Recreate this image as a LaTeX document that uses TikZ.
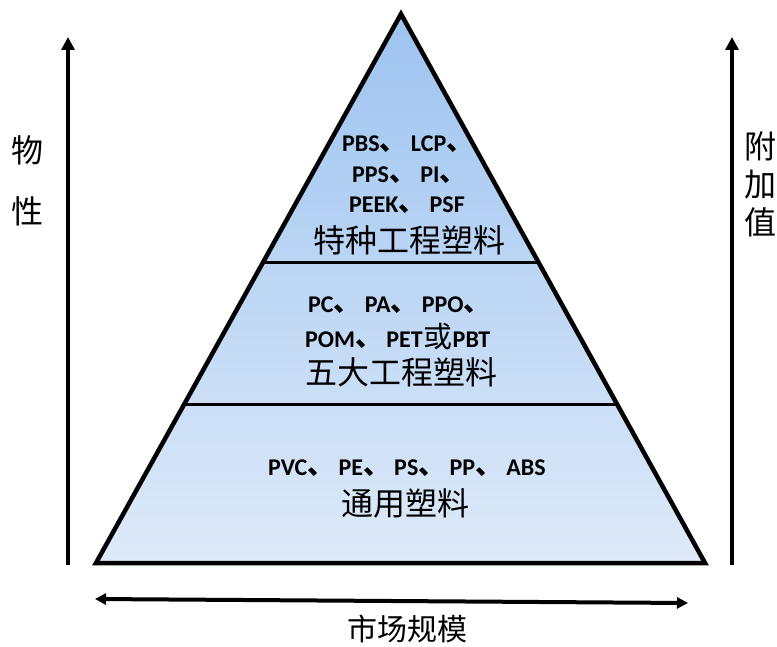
\documentclass[tikz,border=0pt]{standalone}
\usepackage{fontspec}
\setmainfont{Carlito}
\newfontfamily\cjk{Noto Sans CJK SC}
\usetikzlibrary{arrows.meta}
\definecolor{topblue}{RGB}{157,195,240}
\definecolor{botblue}{RGB}{222,234,249}
\newcommand\dun{\makebox[1.3em][l]{\cjk\bfseries\fontsize{27}{27}\selectfont\raisebox{1pt}{、}}}
\newcommand\huo{\makebox[30pt]{\cjk\mdseries\fontsize{29}{29}\selectfont 或}}
\begin{document}
\begin{tikzpicture}[x=1pt,y=-1pt,
  lat/.style={font=\fontsize{24}{26}\selectfont\bfseries, inner sep=0pt, anchor=west},
  zh/.style={font=\cjk\fontsize{32}{34}\selectfont, inner sep=0pt},
  axis/.style={line width=4pt, -{Triangle[length=13pt,width=13pt]}},
  harrow/.style={line width=4pt, {Triangle[length=11pt,width=11pt]}-{Triangle[length=11pt,width=11pt]}},
  sep/.style={line width=3pt}]
\useasboundingbox (0,0) rectangle (777,647);
\coordinate (apex) at (401,14);
\coordinate (bl) at (96,563);
\coordinate (br) at (705,563);
\shade[top color=topblue,bottom color=botblue] (apex)--(bl)--(br)--cycle;
\draw[line width=4.5pt,line join=miter] (apex)--(bl)--(br)--cycle;
\coordinate (s1l) at (263,263); \coordinate (s1r) at (539,263);
\coordinate (s2l) at (184,404); \coordinate (s2r) at (618,404);
\draw[sep] (s1l)--(s1r);
\draw[sep] (s2l)--(s2r);

\node[lat] (t1) at (342,144) {PBS\dun LCP\dun};
\node[lat] (t2) at (352,175) {PPS\dun PI\dun};
\node[lat] (t3) at (349,205) {PEEK\dun PSF};
\node[zh] (t4) at (409,240) {特种工程塑料};

\node[lat] (m1) at (308,305) {PC\dun PA\dun PPO\dun};
\node[lat] (m2) at (305,337) {POM\dun PET\huo PBT};
\node[zh] (m3) at (401,372) {五大工程塑料};

\node[lat] (b1) at (268,468) {PVC\dun PE\dun PS\dun PP\dun ABS};
\node[zh] (b2) at (405,503) {通用塑料};

\coordinate (la0) at (68,565); \coordinate (la1) at (68,37);
\coordinate (ra0) at (732,565); \coordinate (ra1) at (732,37);
\coordinate (ha0) at (95,599); \coordinate (ha1) at (688,603);
\draw[axis] (la0)--(la1);
\draw[axis] (ra0)--(ra1);
\draw[harrow] (ha0)--(ha1);

\node[zh] (w1) at (27,150) {物};
\node[zh] (w2) at (27,211) {性};
\node[zh] (v1) at (760,146) {附};
\node[zh] (v2) at (760,185) {加};
\node[zh] (v3) at (760,222) {值};
\node[zh, font=\cjk\fontsize{30}{32}\selectfont] (mk) at (407,629) {市场规模};
\end{tikzpicture}
\end{document}
